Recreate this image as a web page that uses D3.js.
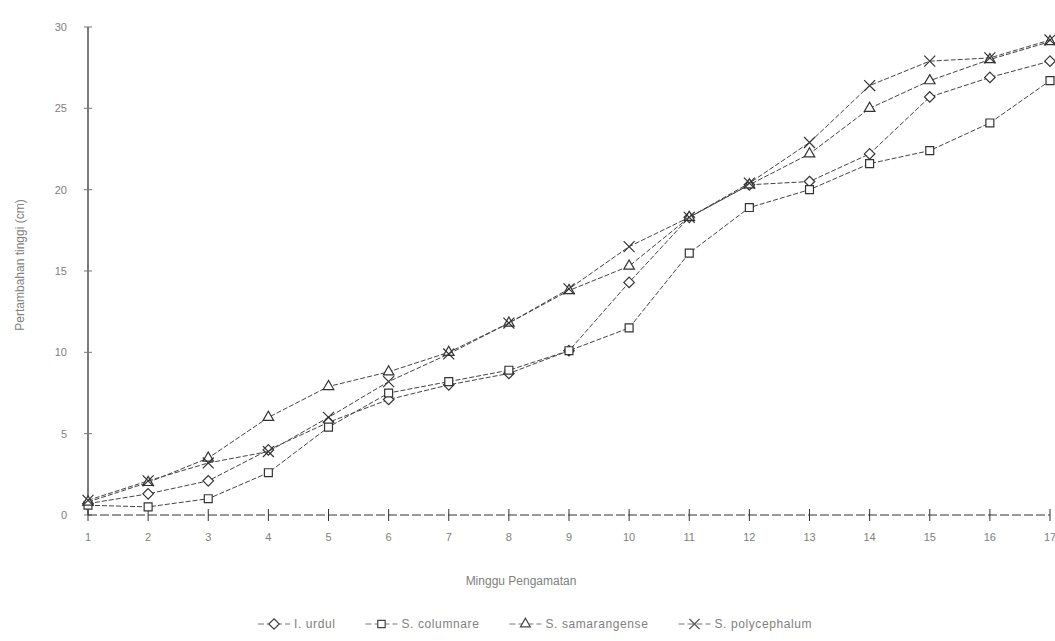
<!DOCTYPE html>
<html>
<head>
<meta charset="utf-8">
<script src="https://cdn.jsdelivr.net/npm/d3@7"></script>
<style>
  body { margin: 0; background: #fff; }
  #chart { width: 1055px; height: 641px; }
  text { font-family: "Liberation Sans", Arial, sans-serif; fill: #808080; }
</style>
</head>
<body>
<div id="chart"></div>
<script>
"use strict";

const weeks = [1, 2, 3, 4, 5, 6, 7, 8, 9, 10, 11, 12, 13, 14, 15, 16, 17];
const yTicks = [0, 5, 10, 15, 20, 25, 30];

const seriesNames = ["I. urdul", "S. columnare", "S. samarangense", "S. polycephalum"];
const diamondVals = [0.7, 1.3, 2.1, 4.0, 5.7, 7.1, 8.0, 8.7, 10.1, 14.3, 18.3, 20.3, 20.5, 22.2, 25.7, 26.9, 27.9];
const squareVals = [0.6, 0.5, 1.0, 2.6, 5.4, 7.5, 8.2, 8.9, 10.1, 11.5, 16.1, 18.9, 20.0, 21.6, 22.4, 24.1, 26.7];
const triangleVals = [0.8, 2.0, 3.5, 6.0, 7.9, 8.8, 10.0, 11.8, 13.8, 15.3, 18.3, 20.3, 22.2, 25.0, 26.7, 28.0, 29.1];
const crossVals = [0.9, 2.1, 3.2, 3.9, 6.0, 8.2, 9.9, 11.8, 13.9, 16.5, 18.3, 20.4, 22.9, 26.4, 27.9, 28.1, 29.2];

const series = [
  { name: seriesNames[0], values: diamondVals, symbol: d3.symbolDiamond2, size: 70 },
  { name: seriesNames[1], values: squareVals, symbol: d3.symbolSquare2, size: 80 },
  { name: seriesNames[2], values: triangleVals, symbol: d3.symbolTriangle2, size: 80 },
  { name: seriesNames[3], values: crossVals, symbol: d3.symbolX, size: 80 },
];

const w = 1055, h = 641;
const svg = d3.select("#chart").append("svg").attr("width", w).attr("height", h);

const x = d3.scaleLinear().domain([1, 17]).range([88, 1050]);
const y = d3.scaleLinear().domain([0, 30]).range([515, 27]);

const ink = "#333";

// y axis
const yAxis = svg.append("g").attr("transform", "translate(88,0)");
yAxis.append("line").attr("x1", 0).attr("x2", 0).attr("y1", y(30)).attr("y2", y(0))
  .attr("stroke", ink).attr("stroke-width", 1.3);
yAxis.selectAll("line.tick").data(yTicks).enter().append("line")
  .attr("class", "tick").attr("x1", -4).attr("x2", 4)
  .attr("y1", (d) => y(d)).attr("y2", (d) => y(d))
  .attr("stroke", "#777");
yAxis.selectAll("text").data(yTicks).enter().append("text")
  .attr("x", -21).attr("y", (d) => y(d) + 4)
  .attr("text-anchor", "end").attr("font-size", 11)
  .text((d) => d);

// x axis
const xAxis = svg.append("g").attr("transform", `translate(0,${y(0)})`);
xAxis.append("line").attr("x1", x(1)).attr("x2", x(17)).attr("y1", 0).attr("y2", 0)
  .attr("stroke", ink).attr("stroke-dasharray", "9,3");
xAxis.selectAll("line.tick").data(weeks).enter().append("line")
  .attr("class", "tick").attr("x1", (d) => x(d)).attr("x2", (d) => x(d))
  .attr("y1", -6).attr("y2", 6).attr("stroke", ink);
xAxis.selectAll("text").data(weeks).enter().append("text")
  .attr("x", (d) => x(d)).attr("y", 26)
  .attr("text-anchor", "middle").attr("font-size", 11)
  .text((d) => d);

// axis titles
svg.append("text")
  .attr("transform", "translate(24,265) rotate(-90)")
  .attr("text-anchor", "middle").attr("font-size", 12)
  .text("Pertambahan tinggi (cm)");
svg.append("text")
  .attr("x", 521).attr("y", 585).attr("text-anchor", "middle").attr("font-size", 12)
  .text("Minggu Pengamatan");

// lines and markers
const line = d3.line().x((d, i) => x(weeks[i])).y((d) => y(d));

series.forEach((s) => {
  svg.append("path").datum(s.values)
    .attr("d", line).attr("fill", "none")
    .attr("stroke", "#444").attr("stroke-width", 1)
    .attr("stroke-dasharray", "5,2");
  svg.selectAll(null).data(s.values).enter().append("path")
    .attr("d", d3.symbol().type(s.symbol).size(s.size))
    .attr("transform", (d, i) => `translate(${x(weeks[i])},${y(d)})`)
    .attr("fill", "#fff").attr("stroke", "#333").attr("stroke-width", 1.2);
});

// legend
const legend = svg.append("g").attr("transform", "translate(258,624)");
let lx = 0;
series.forEach((s) => {
  const g = legend.append("g").attr("transform", `translate(${lx},0)`);
  g.append("line").attr("x1", 0).attr("x2", 32).attr("y1", 0).attr("y2", 0)
    .attr("stroke", "#777").attr("stroke-dasharray", "6,3");
  g.append("path").attr("d", d3.symbol().type(s.symbol).size(70))
    .attr("transform", "translate(16,0)")
    .attr("fill", "#fff").attr("stroke", "#444").attr("stroke-width", 1.2);
  const t = g.append("text").attr("x", 36).attr("y", 4).attr("font-size", 12)
    .attr("letter-spacing", 0.6).text(s.name);
  lx += 36 + t.node().getComputedTextLength() + 30;
});
</script>
</body>
</html>
